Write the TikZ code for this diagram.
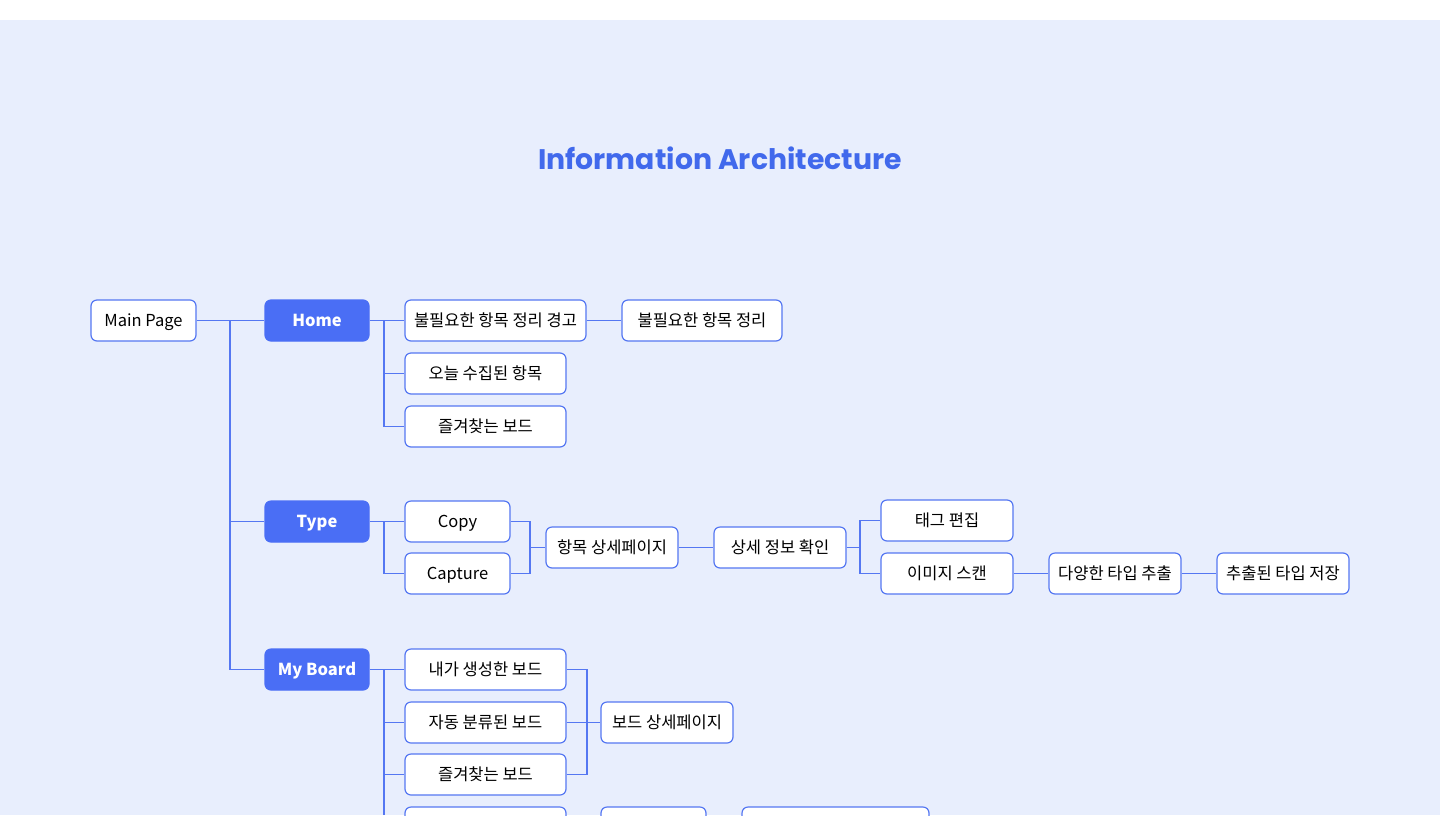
\documentclass[tikz,border=0pt]{standalone}
\usepackage{fontspec}
\setmainfont{Noto Sans CJK KR}
\newfontfamily\titlefont{Poppins}
\definecolor{bg}{HTML}{E8EEFD}
\definecolor{ln}{HTML}{5577F2}
\definecolor{fillb}{HTML}{4A6EF5}
\definecolor{ttl}{HTML}{4169EC}
\begin{document}
\begin{tikzpicture}[x=1pt,y=-1pt,
  box/.style={draw=ln,line width=1.2pt,rounded corners=6pt,fill=white,minimum height=41pt,inner sep=0pt,text height=11.5pt,text depth=0pt,font=\fontsize{16.5}{19}\selectfont,text=black},
  hbox/.style={box,fill=fillb,draw=fillb,text=white,font=\fontsize{16.5}{19}\selectfont\bfseries},
  link/.style={draw=ln,line width=1.2pt}]
\useasboundingbox (0,0) rectangle (1440,815);
\fill[white] (0,0) rectangle (1440,20);
\fill[bg] (0,20) rectangle (1440,815);
\node[font=\titlefont\fontsize{28.3}{32}\selectfont\bfseries,text=ttl] (title) at (720,158) {Information Architecture};
\coordinate (mbus) at (230,320.5);
\coordinate (hbus) at (384,320.5);
\coordinate (tbus) at (384,521.5);
\coordinate (tm) at (530,547.5);
\coordinate (dm) at (860,547.5);
\coordinate (bbus) at (384,669.5);
\coordinate (bm) at (587,722.5);
\coordinate (bend) at (384,815);
% nodes
\node[box,minimum width=105pt] (main) at (143.5,320.5) {Main Page};
\node[hbox,minimum width=104pt] (home) at (317,320.5) {Home};
\node[box,minimum width=181pt] (h1) at (495.5,320.5) {불필요한 항목 정리 경고};
\node[box,minimum width=160pt] (h1a) at (702,320.5) {불필요한 항목 정리};
\node[box,minimum width=161pt] (h2) at (485.5,373.5) {오늘 수집된 항목};
\node[box,minimum width=161pt] (h3) at (485.5,426.5) {즐겨찾는 보드};
\node[hbox,minimum width=104pt] (type) at (317,521.5) {Type};
\node[box,minimum width=105pt] (copy) at (457.5,521.5) {Copy};
\node[box,minimum width=105pt] (capture) at (457.5,573.5) {Capture};
\node[box,minimum width=132pt] (itemd) at (612,547.5) {항목 상세페이지};
\node[box,minimum width=132pt] (detail) at (780,547.5) {상세 정보 확인};
\node[box,minimum width=132pt] (tag) at (947,520.5) {태그 편집};
\node[box,minimum width=132pt] (scan) at (947,573.5) {이미지 스캔};
\node[box,minimum width=132pt] (extract) at (1115,573.5) {다양한 타입 추출};
\node[box,minimum width=132pt] (save) at (1283,573.5) {추출된 타입 저장};
\node[hbox,minimum width=104pt] (board) at (317,669.5) {My Board};
\node[box,minimum width=161pt] (b1) at (485.5,669.5) {내가 생성한 보드};
\node[box,minimum width=161pt] (b2) at (485.5,722.5) {자동 분류된 보드};
\node[box,minimum width=161pt] (b3) at (485.5,774.5) {즐겨찾는 보드};
\node[box,minimum width=132pt] (bd) at (667,722.5) {보드 상세페이지};
\node[box,minimum width=161pt] (b4) at (485.5,827.5) {};
\node[box,minimum width=105pt] (c4) at (653.5,827.5) {};
\node[box,minimum width=187pt] (d4) at (835.5,827.5) {};
% connectors
\draw[link] (main) -- (home);
\draw[link] (mbus) |- (type.west);
\draw[link] (mbus) |- (board.west);
\draw[link] (home) -- (h1);
\draw[link] (h1) -- (h1a);
\draw[link] (hbus) |- (h2.west);
\draw[link] (hbus) |- (h3.west);
\draw[link] (type) -- (copy);
\draw[link] (tbus) |- (capture.west);
\draw[link] (copy.east) -| (tm);
\draw[link] (capture.east) -| (tm);
\draw[link] (tm) -- (itemd.west);
\draw[link] (itemd) -- (detail);
\draw[link] (detail.east) -- (dm);
\draw[link] (dm) |- (tag.west);
\draw[link] (dm) |- (scan.west);
\draw[link] (scan) -- (extract);
\draw[link] (extract) -- (save);
\draw[link] (board) -- (b1);
\draw[link] (bbus) |- (b2.west);
\draw[link] (bbus) |- (b3.west);
\draw[link] (bbus) -- (bend);
\draw[link] (b1.east) -| (bm);
\draw[link] (b3.east) -| (bm);
\draw[link] (b2) -- (bd);
\end{tikzpicture}
\end{document}
